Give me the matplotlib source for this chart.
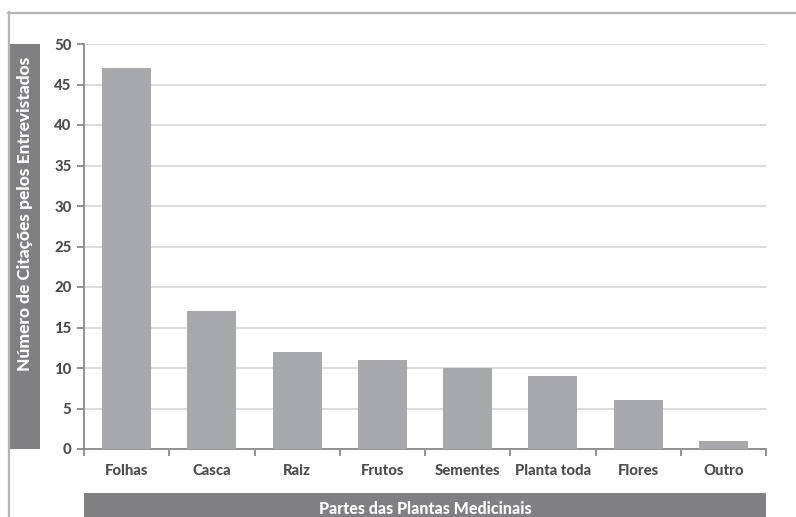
import matplotlib
matplotlib.use("Agg")
import matplotlib.pyplot as plt
from matplotlib.patches import Rectangle
from matplotlib.lines import Line2D

categories = ["Folhas", "Casca", "Raiz", "Frutos", "Sementes", "Planta toda", "Flores", "Outro"]
citations = [47, 17, 12, 11, 10, 9, 6, 1]
y_ticks = [0, 5, 10, 15, 20, 25, 30, 35, 40, 45, 50]
y_label = "Número de Citações pelos Entrevistados"
x_label = "Partes das Plantas Medicinais"

plt.rcParams["font.family"] = ["Lato", "DejaVu Sans"]

W, H = 796, 517
fig = plt.figure(figsize=(W / 100, H / 100), dpi=100)

def fx(px):
    return px / W

def fy(py):
    return 1 - py / H

# outer frame (top and left edges)
fig.add_artist(Line2D([fx(8), fx(796)], [fy(12.5), fy(12.5)], color="#b4b4b4", lw=1.6))
fig.add_artist(Line2D([fx(8.5), fx(8.5)], [fy(12), fy(517)], color="#b4b4b4", lw=1.6))

left, right, top, bottom = 84, 766, 44, 449
ax = fig.add_axes([fx(left), fy(bottom), fx(right - left), (bottom - top) / H])

x = list(range(len(categories)))
ax.bar(x, citations, width=0.575, color="#a7a8ab", zorder=3)

tick_font = dict(fontsize=10.7, fontweight="black", color="#4d4d4f")
ax.set_xlim(-0.5, len(categories) - 0.5)
ax.set_ylim(0, 50)
ax.set_yticks(y_ticks)
ax.set_yticklabels([str(v) for v in y_ticks], **tick_font)
ax.set_xticks(x)
ax.set_xticklabels(categories, **tick_font)
ax.set_xticks([i - 0.5 for i in range(len(categories) + 1)], minor=True)
ax.tick_params(axis="x", which="major", length=0, pad=11)
ax.tick_params(axis="x", which="minor", length=5, width=1.3, color="#8a8a8c", direction="out")
ax.tick_params(axis="y", length=5, width=1.3, color="#8a8a8c", pad=4)

ax.yaxis.grid(True, color="#dadada", lw=1.4, zorder=0)
for side in ("top", "right"):
    ax.spines[side].set_visible(False)
for side in ("left", "bottom"):
    ax.spines[side].set_color("#8a8a8c")
    ax.spines[side].set_linewidth(1.3)
ax.spines["left"].set_zorder(4)

# y-axis title box
fig.add_artist(Rectangle((fx(10), fy(449)), fx(30), (449 - 44) / H,
                         facecolor="#808083", edgecolor="none"))
fig.text(fx(25.5), fy(214), y_label, rotation=90, ha="center", va="center",
         color="white", fontsize=12.5, fontweight="black")

# x-axis title box
fig.add_artist(Rectangle((fx(84), fy(517)), fx(766 - 84), (517 - 493) / H,
                         facecolor="#808083", edgecolor="none"))
fig.text(fx(425), fy(509), x_label, ha="center", va="center",
         color="white", fontsize=11.5, fontweight="black")

fig.savefig("out.png", dpi=100)
